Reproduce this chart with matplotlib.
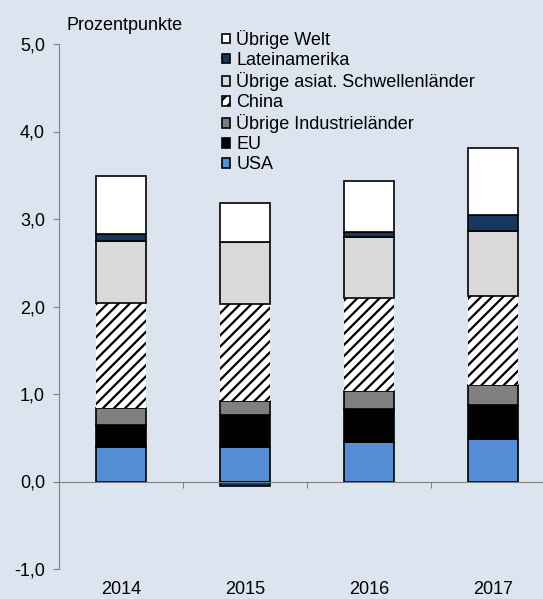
import numpy as np
import matplotlib
matplotlib.use("Agg")
import matplotlib.pyplot as plt
from matplotlib.patches import Patch

plt.rcParams['font.family'] = ['Liberation Sans', 'DejaVu Sans']
plt.rcParams['hatch.linewidth'] = 1.6

years = ['2014', '2015', '2016', '2017']
series = ['USA', 'EU', 'Übrige Industrieländer', 'China',
          'Übrige asiat. Schwellenländer', 'Lateinamerika', 'Übrige Welt']
usa = [0.39, 0.40, 0.45, 0.49]
eu = [0.26, 0.36, 0.38, 0.39]
industrie = [0.19, 0.16, 0.21, 0.22]
china = [1.20, 1.11, 1.06, 1.02]
asien = [0.71, 0.71, 0.70, 0.74]
latam = [0.08, -0.05, 0.05, 0.19]
welt = [0.66, 0.44, 0.59, 0.76]
values = [usa, eu, industrie, china, asien, latam, welt]

colors = ['#558ED5', '#000000', '#7F7F7F', '#FFFFFF', '#D9D9D9', '#17375E', '#FFFFFF']
hatches = [None, None, None, '///', None, None, None]
bg = '#DCE4F0'

fig = plt.figure(figsize=(5.43, 5.99), dpi=100, facecolor=bg)
ax = fig.add_axes([59 / 543, 1 - 569 / 599, (555 - 59) / 543, (569 - 44) / 599])
ax.set_facecolor(bg)

x = np.arange(len(years))
pos_base = np.zeros(len(years))
neg_base = np.zeros(len(years))
for vals, col, h in zip(values, colors, hatches):
    vals = np.array(vals)
    bottoms = np.where(vals >= 0, pos_base, neg_base)
    if h:
        ax.bar(x, vals, 0.40, bottom=bottoms, color=col, edgecolor='black',
               hatch=h, linewidth=0, zorder=3)
    else:
        ax.bar(x, vals, 0.40, bottom=bottoms, color=col, edgecolor='black',
               linewidth=1.2, zorder=3)
    pos_base += np.where(vals >= 0, vals, 0)
    neg_base += np.where(vals < 0, vals, 0)

ax.set_xlim(-0.5, 3.5)
ax.set_ylim(-1, 5)
ax.set_yticks(np.arange(-1, 6, 1))
ax.set_yticklabels([f"{v:.1f}".replace('.', ',') for v in np.arange(-1, 6, 1)], fontsize=13)
ax.set_xticks([0.5, 1.5, 2.5])
ax.set_xticklabels([])
ax.tick_params(axis='y', length=4, color='#808080', pad=6)
ax.tick_params(axis='x', length=4, color='#808080', direction='out')

for s in ['top', 'right']:
    ax.spines[s].set_visible(False)
ax.spines['left'].set_color('#808080')
ax.spines['bottom'].set_color('#808080')
ax.spines['bottom'].set_position(('data', 0))
ax.spines['bottom'].set_zorder(4)

# Jahreszahlen unter der Achse
for xi, yr in zip(x, years):
    ax.text(xi, -1.285, yr, ha='center', va='baseline', fontsize=13, clip_on=False)

fig.text(66 / 543, 1 - 25 / 599, 'Prozentpunkte', fontsize=13, va='center', ha='left')

handles = []
for name, col, h in zip(series, colors, hatches):
    handles.append(Patch(facecolor=col, edgecolor='black', hatch=h, linewidth=1.2))
leg = fig.legend(handles[::-1], series[::-1], loc='upper left',
                 bbox_to_anchor=(222 / 543, 1 - 30 / 599), frameon=False,
                 fontsize=13, handlelength=0.45, handleheight=0.45,
                 handletextpad=0.35, labelspacing=0.17, borderpad=0,
                 borderaxespad=0)

fig.savefig('out.png', dpi=100, facecolor=bg)
